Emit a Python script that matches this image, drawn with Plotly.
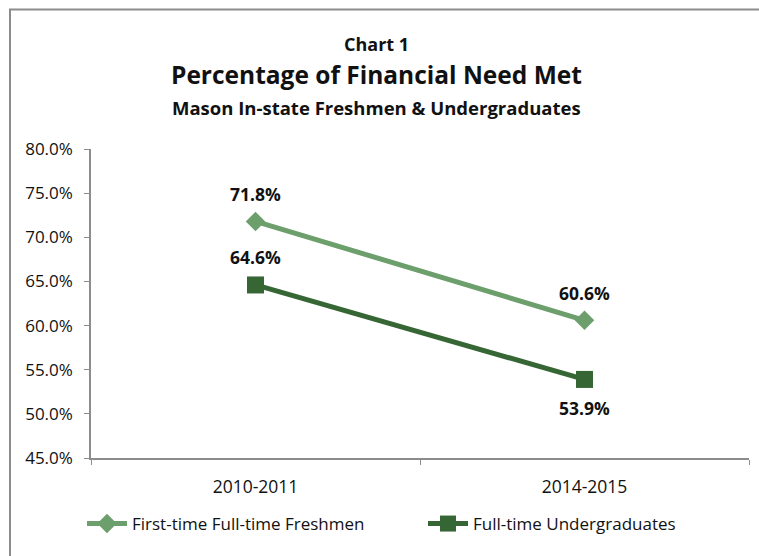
import plotly.graph_objects as go

# ---- data ----
categories = ["2010-2011", "2014-2015"]
freshmen = [0.718, 0.606]
undergrads = [0.646, 0.539]
series_names = ["First-time Full-time Freshmen", "Full-time Undergraduates"]
title_lines = ["Chart 1", "Percentage of Financial Need Met",
               "Mason In-state Freshmen & Undergraduates"]

W, H = 759, 556
L, R, T, B = 91, 749, 149, 458  # plot area in pixels

def px(x):
    return (x - L) / (R - L)

def py(y):
    return (B - y) / (B - T)

LIGHT = "#6c9f6c"
DARK = "#356634"
AXIS = "#8c8c8c"
FONT = "Open Sans"
TXT = "#111111"

fig = go.Figure()
fig.add_trace(go.Scatter(
    x=categories, y=freshmen, name=series_names[0], mode="lines+markers",
    line=dict(color=LIGHT, width=5),
    marker=dict(symbol="diamond", size=15, color=LIGHT),
    cliponaxis=False, legend="legend",
))
fig.add_trace(go.Scatter(
    x=categories, y=undergrads, name=series_names[1], mode="lines+markers",
    line=dict(color=DARK, width=5),
    marker=dict(symbol="square", size=17, color=DARK),
    cliponaxis=False, legend="legend2",
))

# data labels
label_font = dict(family=FONT, size=17.5, color=TXT, weight="bold")
for vals, shifts in [(freshmen, [27, 27]), (undergrads, [28, -29])]:
    for c, v, s in zip(categories, vals, shifts):
        fig.add_annotation(x=c, y=v, text=f"{v*100:.1f}%", showarrow=False,
                           yshift=s, xanchor="center", yanchor="middle", font=label_font)

leg_common = dict(orientation="h", yanchor="middle", xanchor="left",
                  font=dict(family=FONT, size=17, color=TXT),
                  itemwidth=40, bgcolor="rgba(0,0,0,0)")

fig.update_layout(
    width=W, height=H,
    margin=dict(l=L, r=W - R, t=T, b=H - B, pad=0, autoexpand=False),
    paper_bgcolor="white", plot_bgcolor="white",
    font=dict(family=FONT, size=17, color=TXT),
    showlegend=True,
    legend=dict(x=px(82), y=py(524), **leg_common),
    legend2=dict(x=px(423), y=py(524), **leg_common),
    xaxis=dict(type="category", tickson="boundaries", ticks="outside", ticklen=5,
               tickcolor=AXIS, showline=True, linecolor=AXIS, linewidth=1.5,
               showgrid=False, zeroline=False, range=[-0.5, 1.5],
               tickfont=dict(family=FONT, size=17.5, color=TXT),
               ticklabelstandoff=12),
    yaxis=dict(range=[0.45, 0.80], dtick=0.05, tick0=0.45, tickformat=".1%",
               ticks="outside", ticklen=5, tickcolor=AXIS, showline=True,
               linecolor=AXIS, linewidth=1.5, showgrid=False, zeroline=False,
               tickfont=dict(family=FONT, size=17, color=TXT),
               ticklabelstandoff=8),
)

# outer chart border (only left/top edges are inside the frame)
x0, y0 = px(10), py(9.5)
fig.add_shape(type="path", xref="paper", yref="paper",
              path=f"M {x0},{py(H + 20)} L {x0},{y0} L {px(W + 20)},{y0}",
              line=dict(color=AXIS, width=2), layer="below")

# titles
title_specs = [(title_lines[0], 44, 18), (title_lines[1], 75, 24.5), (title_lines[2], 107, 18.5)]
for txt, ypix, size in title_specs:
    fig.add_annotation(text=txt, xref="paper", yref="paper", x=px(376), y=py(ypix),
                       xanchor="center", yanchor="middle", showarrow=False,
                       font=dict(family=FONT, size=size, color=TXT, weight="bold"))

fig.write_html("out.html")
